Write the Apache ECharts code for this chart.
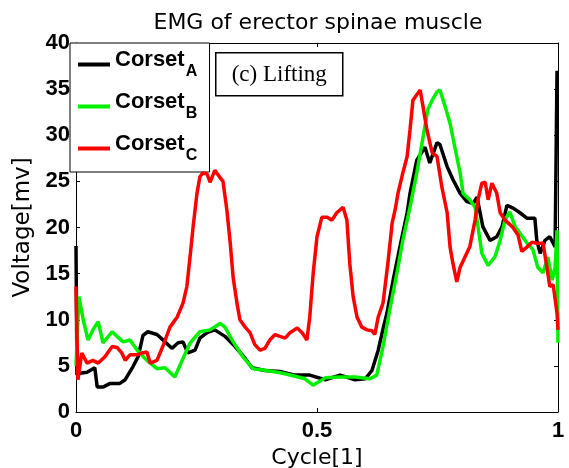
<!DOCTYPE html>
<html>
<head>
<meta charset="utf-8">
<script src="https://cdn.jsdelivr.net/npm/echarts@6/dist/echarts.min.js"></script>
<style>
  html, body { margin: 0; padding: 0; background: #fff; }
  #chart { width: 569px; height: 468px; }
</style>
</head>
<body>
<div id="chart"></div>
<script>
// Normalised cycle positions and EMG voltage [mV] for each corset
const cycleA = [0, 0.002, 0.008, 0.023, 0.039, 0.044, 0.056, 0.071, 0.091, 0.102, 0.118, 0.129, 0.139, 0.149, 0.168, 0.185, 0.199, 0.212, 0.222, 0.232, 0.247, 0.257, 0.272, 0.288, 0.309, 0.330, 0.351, 0.365, 0.392, 0.423, 0.454, 0.485, 0.517, 0.548, 0.579, 0.600, 0.614, 0.627, 0.637, 0.645, 0.658, 0.672, 0.687, 0.693, 0.707, 0.724, 0.734, 0.749, 0.755, 0.770, 0.782, 0.797, 0.811, 0.824, 0.832, 0.844, 0.859, 0.873, 0.884, 0.894, 0.907, 0.921, 0.936, 0.952, 0.956, 0.963, 0.973, 0.983, 0.994, 0.998];
const voltA = [18.0, 4.0, 4.2, 4.3, 4.8, 2.7, 2.7, 3.1, 3.1, 3.5, 4.9, 6.0, 8.3, 8.7, 8.4, 7.6, 6.9, 7.5, 7.6, 6.4, 6.7, 8.0, 8.6, 8.9, 8.2, 7.1, 5.8, 4.8, 4.5, 4.4, 4.0, 4.0, 3.5, 4.0, 3.5, 3.6, 4.5, 6.7, 9.0, 10.7, 14.3, 17.9, 21.6, 23.7, 27.3, 28.7, 27.0, 29.2, 29.0, 26.6, 25.2, 23.7, 22.8, 22.6, 23.3, 20.1, 18.6, 19.0, 20.1, 22.4, 22.1, 21.6, 21.0, 21.0, 18.6, 17.2, 18.6, 19.0, 17.9, 37.0];

const cycleB = [0, 0.006, 0.015, 0.025, 0.035, 0.046, 0.056, 0.075, 0.085, 0.098, 0.112, 0.127, 0.147, 0.168, 0.185, 0.205, 0.222, 0.237, 0.257, 0.278, 0.299, 0.309, 0.326, 0.346, 0.367, 0.396, 0.429, 0.461, 0.475, 0.492, 0.517, 0.548, 0.579, 0.610, 0.624, 0.637, 0.651, 0.666, 0.678, 0.693, 0.707, 0.720, 0.730, 0.739, 0.749, 0.755, 0.766, 0.776, 0.786, 0.797, 0.803, 0.817, 0.828, 0.834, 0.842, 0.855, 0.869, 0.880, 0.890, 0.900, 0.911, 0.921, 0.936, 0.948, 0.958, 0.969, 0.979, 0.988, 0.994, 0.998, 1.0];
const voltB = [5.0, 12.5, 10.0, 7.8, 8.9, 9.8, 7.5, 8.7, 8.2, 7.6, 7.8, 6.7, 5.6, 4.7, 4.8, 3.8, 5.8, 7.5, 8.7, 8.9, 9.6, 9.2, 7.6, 6.0, 4.7, 4.5, 4.2, 3.8, 3.6, 2.9, 3.7, 3.8, 3.8, 3.6, 4.0, 7.1, 11.1, 15.1, 18.6, 22.2, 25.9, 29.8, 32.8, 33.8, 34.7, 34.9, 33.1, 31.3, 28.7, 25.9, 23.7, 23.0, 22.2, 20.1, 17.2, 15.9, 16.8, 18.6, 20.8, 21.7, 20.1, 19.4, 18.3, 17.6, 15.7, 15.1, 16.8, 14.3, 15.7, 19.7, 7.5];

const cycleC = [0, 0.004, 0.012, 0.023, 0.035, 0.046, 0.060, 0.075, 0.085, 0.095, 0.102, 0.112, 0.127, 0.137, 0.147, 0.154, 0.168, 0.180, 0.195, 0.210, 0.222, 0.230, 0.237, 0.243, 0.251, 0.257, 0.263, 0.272, 0.278, 0.288, 0.299, 0.305, 0.313, 0.320, 0.326, 0.334, 0.340, 0.351, 0.361, 0.371, 0.382, 0.392, 0.402, 0.413, 0.423, 0.434, 0.444, 0.459, 0.469, 0.479, 0.485, 0.492, 0.500, 0.510, 0.521, 0.531, 0.541, 0.554, 0.562, 0.568, 0.575, 0.583, 0.593, 0.604, 0.614, 0.620, 0.627, 0.637, 0.647, 0.656, 0.662, 0.668, 0.678, 0.687, 0.693, 0.699, 0.707, 0.714, 0.720, 0.728, 0.739, 0.749, 0.759, 0.770, 0.776, 0.782, 0.790, 0.797, 0.807, 0.817, 0.828, 0.834, 0.842, 0.849, 0.855, 0.863, 0.873, 0.880, 0.890, 0.905, 0.917, 0.925, 0.936, 0.946, 0.956, 0.969, 0.977, 0.983, 0.990, 0.998, 1.0];
const voltC = [13.6, 3.5, 6.4, 5.3, 5.6, 5.3, 6.0, 7.1, 7.0, 6.4, 5.6, 6.2, 6.2, 6.4, 6.5, 5.3, 5.6, 7.1, 9.2, 10.3, 11.8, 13.6, 17.0, 20.1, 23.7, 25.5, 25.9, 25.8, 24.9, 26.2, 25.4, 25.0, 21.9, 18.3, 14.6, 11.8, 10.0, 9.2, 8.6, 7.3, 6.7, 6.9, 7.8, 8.4, 8.2, 8.0, 8.6, 9.1, 8.6, 7.8, 10.3, 15.0, 19.0, 21.1, 21.1, 20.8, 21.6, 22.2, 20.8, 16.1, 12.5, 10.3, 9.2, 8.9, 8.8, 8.4, 10.3, 11.8, 16.1, 20.5, 21.9, 23.7, 25.9, 27.7, 30.6, 33.8, 34.4, 34.9, 33.1, 30.6, 28.1, 27.7, 24.4, 21.6, 17.9, 16.1, 14.1, 15.7, 16.8, 17.9, 20.8, 23.0, 24.8, 24.9, 23.0, 24.8, 23.7, 21.6, 20.8, 20.1, 19.2, 17.4, 17.9, 18.4, 18.3, 18.3, 15.7, 13.6, 13.8, 10.7, 8.9];

const seriesNames = ['Corset_A', 'Corset_B', 'Corset_C'];
const seriesColors = ['#000000', '#00f000', '#ff0000'];
const yTicks = { min: 0, max: 40, step: 5 };
const xTicks = { min: 0, max: 1, step: 0.5 };

const zip = (xs, ys) => xs.map((x, i) => [x, ys[i]]);
const curves = [zip(cycleA, voltA), zip(cycleB, voltB), zip(cycleC, voltC)];

const sans = 'Liberation Sans, Arial, sans-serif';
const chart = echarts.init(document.getElementById('chart'), null, { renderer: 'canvas' });

const tickStyle = { show: true, inside: true, length: 4, lineStyle: { color: '#000', width: 1 } };
const lineAxis = { show: true, onZero: false, lineStyle: { color: '#000', width: 1 } };

chart.setOption({
  animation: false,
  backgroundColor: '#fff',
  title: {
    text: 'EMG of erector spinae muscle',
    left: 313, top: 7, textAlign: 'center',
    textStyle: { fontFamily: 'DejaVu Sans', fontSize: 22, fontWeight: 'normal', color: '#000' }
  },
  grid: { left: 76, top: 43, width: 482, height: 369, containLabel: false, outerBoundsMode: 'none' },
  xAxis: [{
    type: 'value', min: xTicks.min, max: xTicks.max, interval: xTicks.step,
    position: 'bottom',
    name: 'Cycle[1]', nameLocation: 'middle', nameGap: 35,
    nameTextStyle: { fontFamily: 'DejaVu Sans', fontSize: 22, color: '#000' },
    axisLine: lineAxis, axisTick: tickStyle, splitLine: { show: false },
    axisLabel: { fontFamily: sans, fontSize: 22, fontWeight: 'bold', color: '#000', margin: 8,
      formatter: v => String(v) }
  }, {
    type: 'value', min: xTicks.min, max: xTicks.max, interval: xTicks.step,
    position: 'top', axisLine: lineAxis, axisTick: tickStyle,
    axisLabel: { show: false }, splitLine: { show: false }
  }],
  yAxis: [{
    type: 'value', min: yTicks.min, max: yTicks.max, interval: yTicks.step,
    position: 'left',
    name: 'Voltage[mv]', nameLocation: 'middle', nameGap: 26, nameRotate: 90,
    nameTextStyle: { fontFamily: 'DejaVu Sans', fontSize: 23, color: '#000' },
    axisLine: lineAxis, axisTick: tickStyle, splitLine: { show: false },
    axisLabel: { fontFamily: sans, fontSize: 22, fontWeight: 'bold', color: '#000', margin: 6 }
  }, {
    type: 'value', min: yTicks.min, max: yTicks.max, interval: yTicks.step,
    position: 'right', axisLine: lineAxis, axisTick: tickStyle,
    axisLabel: { show: false }, splitLine: { show: false }
  }],
  legend: {
    orient: 'vertical', left: 70, top: 43,
    backgroundColor: '#fff', borderColor: '#000', borderWidth: 1,
    padding: [6, 12, 8, 8], itemGap: 11, itemWidth: 32, itemHeight: 4,
    icon: 'rect',
    data: seriesNames,
    formatter: name => {
      const parts = name.split('_');
      return '{m|' + parts[0] + '}{s|' + parts[1] + '}{z| }';
    },
    textStyle: {
      rich: {
        m: { fontFamily: sans, fontSize: 22, fontWeight: 'bold', color: '#000', lineHeight: 22, verticalAlign: 'top' },
        s: { fontFamily: sans, fontSize: 16, fontWeight: 'bold', color: '#000', lineHeight: 2, verticalAlign: 'bottom', padding: [0, 0, 0, 1] },
        z: { fontSize: 1, lineHeight: 31 }
      }
    }
  },
  graphic: [{
    type: 'group', left: 215, top: 52,
    children: [{
      type: 'rect', shape: { x: 0, y: 0, width: 127, height: 43 },
      style: { fill: '#fff', stroke: '#000', lineWidth: 1.5 }
    }, {
      type: 'text', x: 63.5, y: 22,
      style: { text: '(c) Lifting', fontFamily: 'Liberation Serif, Times New Roman, serif', fontSize: 23,
        fill: '#000', align: 'center', verticalAlign: 'middle' }
    }]
  }],
  series: seriesNames.map((n, i) => ({
    name: n, type: 'line', data: curves[i],
    xAxisIndex: 0, yAxisIndex: 0,
    showSymbol: false, symbol: 'none', smooth: false,
    color: seriesColors[i],
    lineStyle: { color: seriesColors[i], width: 3.5 },
    z: 2 + i
  }))
});
</script>
</body>
</html>
